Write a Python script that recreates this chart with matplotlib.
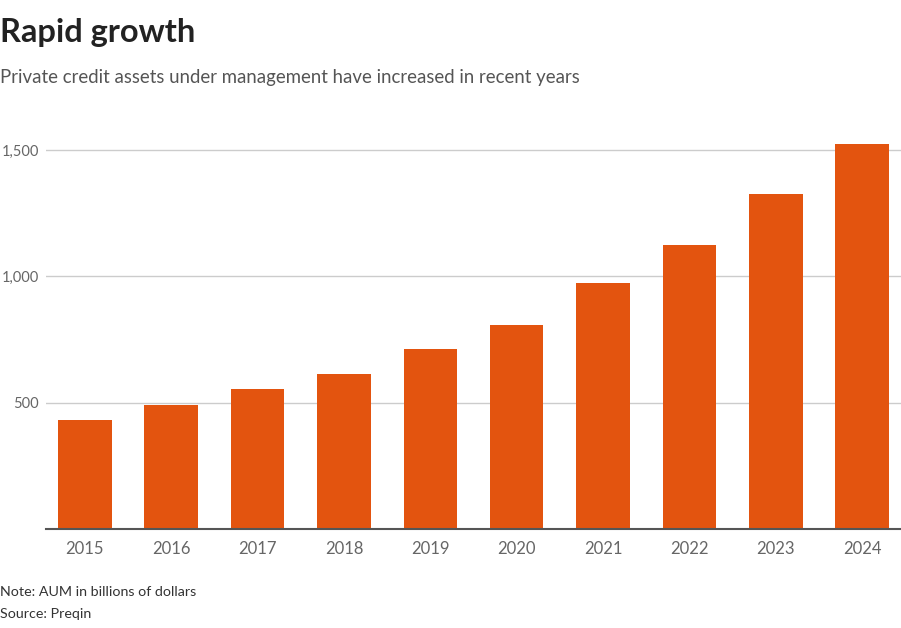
import matplotlib
matplotlib.use("Agg")
import matplotlib.pyplot as plt
from matplotlib.ticker import FuncFormatter

years = ["2015", "2016", "2017", "2018", "2019", "2020", "2021", "2022", "2023", "2024"]
aum = [432, 491, 554, 614, 713, 808, 975, 1125, 1327, 1525]
yticks = [500, 1000, 1500]

plt.rcParams['font.family'] = ['Lato', 'DejaVu Sans']

fig = plt.figure(figsize=(9.01, 6.28), dpi=100)
ax = fig.add_axes([46/901, 1-529/628, 1-46/901, (529-124.7)/628])

x = range(len(years))
ax.bar(x, aum, width=0.62, color="#E3540F", zorder=3)
ax.set_xlim(-0.45, len(years) - 0.55)
ax.set_ylim(0, 1600)
ax.set_yticks(yticks)
ax.yaxis.set_major_formatter(FuncFormatter(lambda v, p: f"{int(v):,}"))
ax.set_xticks(list(x))
ax.set_xticklabels(years)
ax.grid(axis="y", color="#cccccc", linewidth=1, zorder=0)
for s in ["top", "right", "left"]:
    ax.spines[s].set_visible(False)
ax.spines["bottom"].set_color("#555555")
ax.spines["bottom"].set_linewidth(1.5)
ax.spines["bottom"].set_zorder(4)
ax.tick_params(axis="y", length=0, pad=5, labelsize=10.5, labelcolor="#666666")
ax.tick_params(axis="x", length=0, pad=9, labelsize=12, labelcolor="#666666")

fig.text(0.0, 1-42/628, "Rapid growth", fontsize=23.5, fontweight="bold", color="#222222", va="baseline", ha="left")
fig.text(0.0, 1-77/628, "Private credit assets under management have increased in recent years", fontsize=13.4, color="#555555", va="center", ha="left")
fig.text(0.0, 1-592/628, "Note: AUM in billions of dollars", fontsize=10.3, color="#333333", va="center", ha="left")
fig.text(0.0, 1-614/628, "Source: Preqin", fontsize=10.3, color="#333333", va="center", ha="left")

fig.savefig("out.png", dpi=100)
